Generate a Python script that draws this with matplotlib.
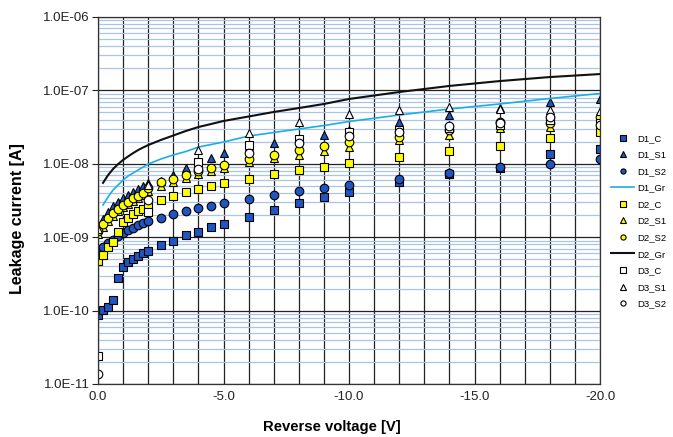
import numpy as np
import matplotlib
matplotlib.use("Agg")
import matplotlib.pyplot as plt
from matplotlib.ticker import FixedLocator, FuncFormatter, LogLocator, NullFormatter

plt.rcParams['font.family'] = ['Liberation Sans', 'DejaVu Sans']
plt.rcParams['axes.unicode_minus'] = False

# reverse voltage steps (V)
volts = [0.0, -0.2, -0.4, -0.6, -0.8, -1.0, -1.2, -1.4, -1.6, -1.8, -2.0,
         -2.5, -3.0, -3.5, -4.0, -4.5, -5.0, -6.0, -7.0, -8.0, -9.0, -10.0,
         -12.0, -14.0, -16.0, -18.0, -20.0]
volts_gr = volts[1:]
volts_d3 = [0.0, -2.0, -4.0, -6.0, -8.0, -10.0, -12.0, -14.0, -16.0, -18.0, -20.0]

# leakage current (A)
d1_c = [8.7e-11, 1.03e-10, 1.13e-10, 1.39e-10, 2.75e-10, 3.96e-10, 4.6e-10, 5.0e-10, 5.5e-10,
        6.0e-10, 6.5e-10, 7.8e-10, 8.96e-10, 1.07e-9, 1.19e-9, 1.38e-9, 1.51e-9, 1.9e-9, 2.35e-9,
        2.9e-9, 3.56e-9, 4.1e-9, 5.7e-9, 7.2e-9, 8.9e-9, 1.38e-8, 1.58e-8]
d1_s1 = [1.38e-9, 1.77e-9, 2.2e-9, 2.62e-9, 3.02e-9, 3.42e-9, 3.76e-9, 4.13e-9, 4.54e-9,
         4.99e-9, 5.47e-9, 5.92e-9, 7.0e-9, 8.77e-9, 1.06e-8, 1.19e-8, 1.39e-8, 1.71e-8, 1.94e-8,
         2.18e-8, 2.47e-8, 2.89e-8, 3.75e-8, 4.62e-8, 5.7e-8, 7.0e-8, 7.57e-8]
d1_s2 = [6.7e-10, 7.35e-10, 8.3e-10, 9.2e-10, 1.04e-9, 1.15e-9, 1.25e-9, 1.35e-9, 1.47e-9,
         1.58e-9, 1.68e-9, 1.84e-9, 2.05e-9, 2.28e-9, 2.48e-9, 2.66e-9, 2.9e-9, 3.3e-9, 3.76e-9,
         4.3e-9, 4.7e-9, 5.1e-9, 6.3e-9, 7.6e-9, 9.0e-9, 1.0e-8, 1.15e-8]
d1_gr = [2.75e-9, 3.53e-9, 4.4e-9, 5.14e-9, 6.01e-9, 6.82e-9, 7.5e-9, 8.24e-9, 9.04e-9,
         9.93e-9, 1.16e-8, 1.32e-8, 1.47e-8, 1.69e-8, 1.83e-8, 1.98e-8, 2.39e-8, 2.67e-8,
         2.98e-8, 3.32e-8, 3.77e-8, 4.62e-8, 5.58e-8, 6.53e-8, 7.76e-8, 9.07e-8]
d2_c = [4.8e-10, 5.7e-10, 7.4e-10, 8.7e-10, 1.19e-9, 1.62e-9, 1.85e-9, 2.04e-9, 2.24e-9,
        2.4e-9, 2.6e-9, 3.2e-9, 3.67e-9, 4.17e-9, 4.6e-9, 5.0e-9, 5.5e-9, 6.2e-9, 7.2e-9,
        8.2e-9, 9.1e-9, 1.02e-8, 1.23e-8, 1.5e-8, 1.77e-8, 2.27e-8, 2.75e-8]
d2_s1 = [1.1e-9, 1.38e-9, 1.67e-9, 1.97e-9, 2.25e-9, 2.55e-9, 2.85e-9, 3.15e-9, 3.45e-9,
         3.8e-9, 4.2e-9, 5.0e-9, 5.7e-9, 6.4e-9, 7.2e-9, 8.0e-9, 8.7e-9, 1.05e-8, 1.2e-8,
         1.32e-8, 1.5e-8, 1.68e-8, 2.1e-8, 2.5e-8, 3.03e-8, 3.2e-8, 3.7e-8]
d2_s2 = [1.21e-9, 1.51e-9, 1.82e-9, 2.14e-9, 2.42e-9, 2.75e-9, 3.05e-9, 3.37e-9, 3.67e-9,
         4.04e-9, 4.7e-9, 5.6e-9, 6.2e-9, 7.0e-9, 7.95e-9, 8.85e-9, 9.6e-9, 1.15e-8, 1.32e-8,
         1.54e-8, 1.74e-8, 2.0e-8, 2.34e-8, 2.89e-8, 3.7e-8, 3.6e-8, 4.4e-8]
d2_gr = [5.5e-9, 7.0e-9, 8.5e-9, 9.9e-9, 1.13e-8, 1.26e-8, 1.4e-8, 1.54e-8, 1.67e-8,
         1.8e-8, 2.11e-8, 2.43e-8, 2.8e-8, 3.17e-8, 3.48e-8, 3.83e-8, 4.41e-8, 5.08e-8,
         5.75e-8, 6.53e-8, 7.64e-8, 9.5e-8, 1.15e-7, 1.34e-7, 1.52e-7, 1.67e-7]
d3_c = [2.4e-11, 2.2e-9, 1.05e-8, 1.8e-8, 2.18e-8, 2.75e-8, 2.89e-8, 3.07e-8, 3.38e-8, 3.95e-8, 3.6e-8]
d3_s1 = [1.3e-9, 5.2e-9, 1.55e-8, 2.6e-8, 3.7e-8, 4.7e-8, 5.4e-8, 6.0e-8, 5.6e-8, 5.4e-8, 5.2e-8]
d3_s2 = [1.37e-11, 3.2e-9, 8.5e-9, 1.4e-8, 1.9e-8, 2.4e-8, 2.7e-8, 3.3e-8, 3.6e-8, 4.37e-8, 3.4e-8]

blue = '#1f56c3'
yellow = '#ffff00'
ms = 6.2

fig = plt.figure(figsize=(6.73, 4.37), dpi=100)
ax = fig.add_axes([98 / 673, 53 / 437, 502 / 673, 367 / 437])

mk = dict(linestyle='none', markersize=ms, markeredgecolor='black', markeredgewidth=0.8)
ax.plot(volts, d1_c, marker='s', markerfacecolor=blue, label='D1_C', **mk)
ax.plot(volts, d1_s1, marker='^', markerfacecolor=blue, label='D1_S1', **mk)
ax.plot(volts, d1_s2, marker='o', markerfacecolor=blue, label='D1_S2', **mk)
ax.plot(volts_gr, d1_gr, color='#1aaee8', lw=1.2, label='D1_Gr')
ax.plot(volts, d2_c, marker='s', markerfacecolor=yellow, label='D2_C', **mk)
ax.plot(volts, d2_s1, marker='^', markerfacecolor=yellow, label='D2_S1', **mk)
ax.plot(volts, d2_s2, marker='o', markerfacecolor=yellow, label='D2_S2', **mk)
ax.plot(volts_gr, d2_gr, color='#111111', lw=1.5, label='D2_Gr')
ax.plot(volts_d3, d3_c, marker='s', markerfacecolor='white', label='D3_C', **mk)
ax.plot(volts_d3, d3_s1, marker='^', markerfacecolor='white', label='D3_S1', **mk)
ax.plot(volts_d3, d3_s2, marker='o', markerfacecolor='white', label='D3_S2', **mk)

ax.set_yscale('log')
ax.set_ylim(1e-11, 1e-6)
ax.set_xlim(0, -20)

ax.xaxis.set_major_locator(FixedLocator([0, -5, -10, -15, -20]))
ax.xaxis.set_minor_locator(FixedLocator(np.arange(0, -21, -1)))
ax.xaxis.set_major_formatter(FuncFormatter(lambda v, p: f"{v:.1f}"))
ax.xaxis.set_minor_formatter(NullFormatter())
ax.yaxis.set_major_locator(LogLocator(base=10, numticks=10))
ax.yaxis.set_minor_locator(LogLocator(base=10, subs=np.arange(2, 10), numticks=10))
ax.yaxis.set_minor_formatter(NullFormatter())
ax.yaxis.set_major_formatter(FuncFormatter(lambda v, p: f"{v:.1E}"))

ax.grid(True, which='minor', axis='x', color='#222222', lw=0.9)
ax.grid(True, which='major', axis='x', color='#222222', lw=0.9)
ax.grid(True, which='major', axis='y', color='#222222', lw=0.9)
ax.grid(True, which='minor', axis='y', color='#a9c4e4', lw=0.9)
ax.set_axisbelow(True)

ax.tick_params(axis='x', which='both', length=0, labelsize=9.5, pad=5, colors='#222222')
ax.tick_params(axis='y', which='major', length=4, width=0.8, labelsize=9.5, pad=2, colors='#222222')
ax.tick_params(axis='y', which='minor', length=0)
for s in ax.spines.values():
    s.set_color('#333333')
    s.set_linewidth(0.9)

ax.set_xlabel('Reverse voltage [V]', fontsize=10.7, fontweight='bold')
ax.xaxis.set_label_coords(0.466, -0.098)
ax.set_ylabel('Leakage current [A]', fontsize=11.5, fontweight='bold')
ax.yaxis.set_label_coords(-0.145, 0.452)

leg = fig.legend(loc='center left', bbox_to_anchor=(607 / 673, 0.494), frameon=False,
                 fontsize=6.8, markerscale=0.6, handlelength=2.5, handletextpad=0.3,
                 labelspacing=0.8, borderaxespad=0)

fig.savefig('out.png', dpi=100)
